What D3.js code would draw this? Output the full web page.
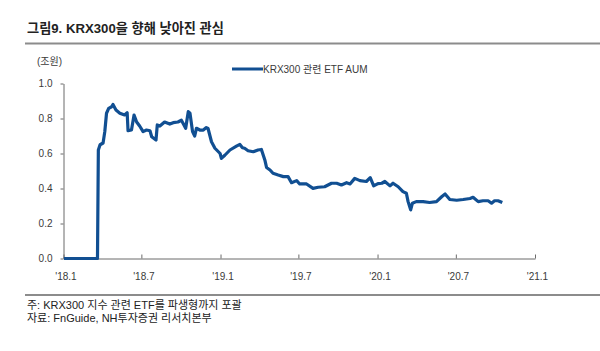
<!DOCTYPE html>
<html>
<head>
<meta charset="utf-8">
<script src="https://cdn.jsdelivr.net/npm/d3@7"></script>
<style>
body { margin: 0; background: #fff; }
text { font-family: "Liberation Sans", "Noto Sans CJK KR", sans-serif; }
</style>
</head>
<body>
<div id="chart"></div>
<script>
// KRX300 관련 ETF AUM (조원)
const dates = [
	'2018-01-02', '2018-03-21', '2018-03-23', '2018-03-27', '2018-04-03', '2018-04-07', '2018-04-11', '2018-04-16',
	'2018-04-23', '2018-04-26', '2018-05-03', '2018-05-12', '2018-05-23', '2018-05-29', '2018-05-31', '2018-06-08',
	'2018-06-14', '2018-06-20', '2018-06-27', '2018-07-05', '2018-07-13', '2018-07-21', '2018-07-25', '2018-08-04',
	'2018-08-07', '2018-08-13', '2018-08-24', '2018-09-05', '2018-09-13', '2018-09-24', '2018-10-02', '2018-10-08',
	'2018-10-12', '2018-10-18', '2018-10-22', '2018-10-28', '2018-11-02', '2018-11-06', '2018-11-14', '2018-11-22',
	'2018-11-29', '2018-12-03', '2018-12-11', '2018-12-19', '2018-12-31', '2019-01-03', '2019-01-11', '2019-01-23',
	'2019-02-07', '2019-02-15', '2019-02-21', '2019-02-26', '2019-03-06', '2019-03-18', '2019-03-29', '2019-04-06',
	'2019-04-14', '2019-04-18', '2019-04-26', '2019-05-03', '2019-05-15', '2019-05-27', '2019-06-07', '2019-06-15',
	'2019-06-27', '2019-07-04', '2019-07-20', '2019-08-04', '2019-08-16', '2019-08-31', '2019-09-16', '2019-09-28',
	'2019-10-09', '2019-10-21', '2019-10-29', '2019-11-09', '2019-11-21', '2019-12-06', '2019-12-15', '2019-12-23',
	'2020-01-02', '2020-01-11', '2020-01-18', '2020-01-30', '2020-02-06', '2020-02-18', '2020-02-29', '2020-03-08',
	'2020-03-12', '2020-03-18', '2020-03-22', '2020-03-31', '2020-04-16', '2020-05-01', '2020-05-17', '2020-05-29',
	'2020-06-06', '2020-06-17', '2020-07-03', '2020-07-18', '2020-08-03', '2020-08-10', '2020-08-22', '2020-09-02',
	'2020-09-14', '2020-09-22', '2020-09-29', '2020-10-07', '2020-10-17'
];
const aum = [
	0, 0, 0.62, 0.65, 0.66, 0.725, 0.83, 0.858,
	0.867, 0.88, 0.848, 0.83, 0.82, 0.833, 0.73, 0.734,
	0.82, 0.78, 0.757, 0.725, 0.734, 0.73, 0.696, 0.677,
	0.763, 0.757, 0.78, 0.768, 0.776, 0.78, 0.79, 0.763,
	0.744, 0.839, 0.83, 0.725, 0.70, 0.744, 0.734, 0.734,
	0.748, 0.743, 0.667, 0.63, 0.60, 0.572, 0.59, 0.62,
	0.642, 0.652, 0.633, 0.63, 0.616, 0.61, 0.62, 0.623,
	0.563, 0.52, 0.506, 0.487, 0.477, 0.468, 0.468, 0.433,
	0.445, 0.426, 0.426, 0.401, 0.407, 0.41, 0.43, 0.43,
	0.42, 0.433, 0.426, 0.458, 0.445, 0.44, 0.462, 0.415,
	0.428, 0.43, 0.44, 0.415, 0.43, 0.41, 0.382, 0.373,
	0.325, 0.278, 0.316, 0.325, 0.325, 0.32, 0.325, 0.353,
	0.369, 0.337, 0.333, 0.337, 0.343, 0.35, 0.325, 0.33,
	0.33, 0.316, 0.33, 0.33, 0.32
];
const xTicks = ['2018-01-01', '2018-07-01', '2019-01-01', '2019-07-01', '2020-01-01', '2020-07-01', '2021-01-01'];
const yTicks = [0, 0.2, 0.4, 0.6, 0.8, 1.0];

const title = '그림9. KRX300을 향해 낮아진 관심';
const unitLabel = '(조원)';
const legendLabel = 'KRX300 관련 ETF AUM';
const notes = ['주: KRX300 지수 관련 ETF를 파생형까지 포괄', '자료: FnGuide, NH투자증권 리서치본부'];

const parseDate = d3.timeParse('%Y-%m-%d');
const lineColor = '#114f92';
const axisColor = '#6b6b6b';
const textColor = '#3a3a3a';

let data = dates.map((d, i) => ({ date: parseDate(d), value: aum[i] }));

let svg = d3.select('#chart').append('svg')
	.attr('width', 600)
	.attr('height', 351);

// 제목 + 구분선
svg.append('text')
	.attr('x', 27).attr('y', 33)
	.attr('font-size', 13.2).attr('font-weight', 'bold')
	.attr('fill', '#222')
	.text(title);
svg.append('line')
	.attr('x1', 25).attr('x2', 600).attr('y1', 43.5).attr('y2', 43.5)
	.attr('stroke', '#8c8c8c').attr('stroke-width', 2);

let xScale = d3.scaleTime()
	.domain([parseDate(xTicks[0]), parseDate(xTicks[xTicks.length - 1])])
	.range([63.5, 535]);
let yScale = d3.scaleLinear().domain([0, 1]).range([258.5, 83.5]);

// y축
let yAxis = svg.append('g')
	.attr('transform', 'translate(63.5,0)')
	.call(d3.axisLeft(yScale).tickValues(yTicks).tickFormat(d3.format('.1f'))
		.tickSizeInner(3).tickSizeOuter(0).tickPadding(8));
// x축
let xAxis = svg.append('g')
	.attr('transform', 'translate(0,258.5)')
	.call(d3.axisBottom(xScale).tickValues(xTicks.map(parseDate))
		.tickFormat(d3.timeFormat("'%y.%-m"))
		.tickSizeInner(-4).tickSizeOuter(0).tickPadding(14));

[yAxis, xAxis].forEach(ax => {
	ax.select('.domain').attr('stroke', axisColor);
	ax.selectAll('.tick line').attr('stroke', axisColor);
	ax.selectAll('.tick text')
		.attr('fill', textColor)
		.attr('font-size', 10)
		.attr('font-family', '"Liberation Sans", sans-serif');
});
xAxis.selectAll('.tick text').attr('dx', 2);

svg.append('text')
	.attr('x', 37).attr('y', 65)
	.attr('font-size', 10).attr('fill', textColor)
	.text(unitLabel);

// 라인
let line = d3.line()
	.x(d => xScale(d.date))
	.y(d => yScale(d.value));

svg.append('path')
	.datum(data)
	.attr('fill', 'none')
	.attr('stroke', lineColor)
	.attr('stroke-width', 3.2)
	.attr('stroke-linejoin', 'round')
	.attr('d', line);

// 범례
svg.append('line')
	.attr('x1', 232).attr('x2', 263).attr('y1', 69).attr('y2', 69)
	.attr('stroke', lineColor).attr('stroke-width', 3);
svg.append('text')
	.attr('x', 263).attr('y', 72.5)
	.attr('font-size', 10).attr('fill', textColor)
	.text(legendLabel);

// 하단 주석
svg.append('line')
	.attr('x1', 25).attr('x2', 600).attr('y1', 295).attr('y2', 295)
	.attr('stroke', '#8c8c8c').attr('stroke-width', 2);
svg.selectAll('.note')
	.data(notes)
	.enter().append('text')
	.attr('class', 'note')
	.attr('x', 27)
	.attr('y', (d, i) => 308.5 + i * 13.5)
	.attr('font-size', 11)
	.attr('fill', '#222')
	.text(d => d);
</script>
</body>
</html>
